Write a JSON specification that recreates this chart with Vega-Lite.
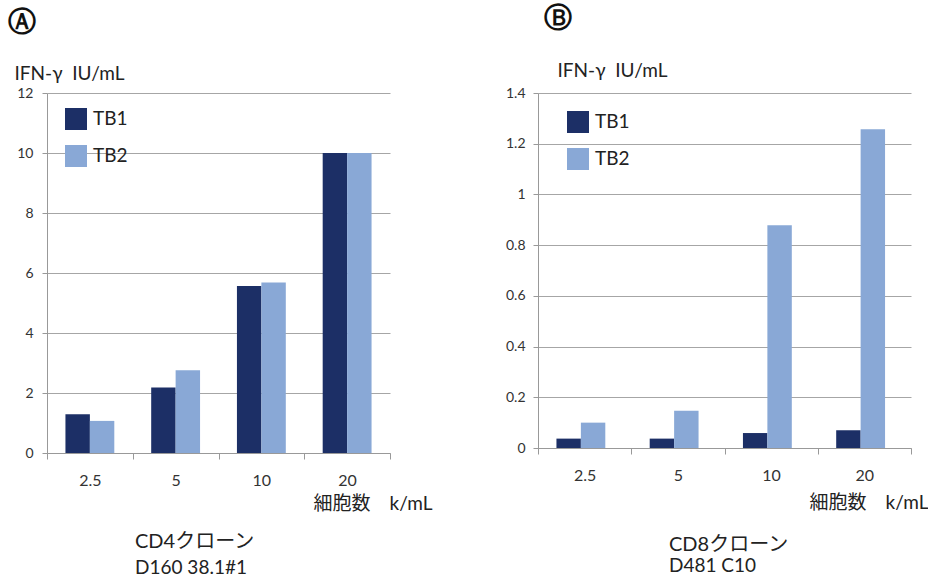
{
  "$schema": "https://vega.github.io/schema/vega-lite/v6.json",
  "padding": {"left": 8, "top": 5, "right": 0, "bottom": 0},
  "background": "white",
  "config": {
    "font": "Lato, Noto Sans CJK JP, sans-serif",
    "view": {"stroke": null},
    "axis": {"labelColor": "#333333", "titleColor": "#222222", "titleFontWeight": "normal", "domainColor": "#999999", "tickColor": "#999999", "gridColor": "#a6a6a6"},
    "title": {"color": "#222222", "fontWeight": "normal"}
  },
  "datasets": {
    "a": [
      {"cells": "2.5", "series": "TB1", "ifn": 1.29},
      {"cells": "2.5", "series": "TB2", "ifn": 1.07},
      {"cells": "5", "series": "TB1", "ifn": 2.18},
      {"cells": "5", "series": "TB2", "ifn": 2.76},
      {"cells": "10", "series": "TB1", "ifn": 5.57},
      {"cells": "10", "series": "TB2", "ifn": 5.68},
      {"cells": "20", "series": "TB1", "ifn": 10},
      {"cells": "20", "series": "TB2", "ifn": 10}
    ],
    "b": [
      {"cells": "2.5", "series": "TB1", "ifn": 0.037},
      {"cells": "2.5", "series": "TB2", "ifn": 0.1},
      {"cells": "5", "series": "TB1", "ifn": 0.037},
      {"cells": "5", "series": "TB2", "ifn": 0.147},
      {"cells": "10", "series": "TB1", "ifn": 0.059},
      {"cells": "10", "series": "TB2", "ifn": 0.878},
      {"cells": "20", "series": "TB1", "ifn": 0.07},
      {"cells": "20", "series": "TB2", "ifn": 1.257}
    ]
  },
  "spacing": 73,
  "resolve": {"scale": {"y": "independent"}, "legend": {"color": "independent"}},
  "hconcat": [
    {
      "title": {"text": "Ⓐ", "anchor": "start", "fontSize": 28, "fontWeight": "bold", "font": "DejaVu Sans", "color": "#111111", "offset": 27, "dx": -6},
      "vconcat": [
        {
          "width": 343,
          "height": 360,
          "data": {"name": "a"},
          "title": {"text": "CD4クローン", "subtitle": "D160 38.1#1", "orient": "bottom", "anchor": "start", "frame": "group", "dx": 88, "fontSize": 20, "subtitleFontSize": 19, "subtitleColor": "#222222", "subtitlePadding": 7, "offset": 19},
          "mark": {"type": "bar"},
          "encoding": {
            "x": {"field": "cells", "type": "nominal", "sort": ["2.5", "5", "10", "20"],
                  "scale": {"paddingInner": 0, "paddingOuter": 0},
                  "axis": {"title": "細胞数　k/mL", "labelAngle": 0, "labelFontSize": 16, "labelPadding": 13, "tickBand": "extent", "tickSize": 6, "titleFontSize": 19, "titleAlign": "right", "titleBaseline": "middle", "titleX": 385, "titleY": 50}},
            "xOffset": {"field": "series", "type": "nominal", "scale": {"paddingInner": 0, "paddingOuter": 0.755}},
            "y": {"field": "ifn", "type": "quantitative",
                  "scale": {"domain": [0, 12], "nice": false},
                  "axis": {"title": "IFN-γ\u00a0\u00a0IU/mL", "values": [0, 2, 4, 6, 8, 10, 12], "labelFontSize": 14, "labelPadding": 9, "tickSize": 5, "titleAngle": 0, "titleAlign": "left", "titleBaseline": "bottom", "titleX": -33, "titleY": -10, "titleFontSize": 19}},
            "color": {"field": "series", "type": "nominal",
                      "scale": {"domain": ["TB1", "TB2"], "range": ["#1c2f66", "#89a8d6"]},
                      "legend": {"title": null, "orient": "none", "legendX": 18, "legendY": 15, "symbolType": "square", "symbolSize": 484, "symbolStrokeWidth": 0, "labelFontSize": 19, "labelColor": "#222222", "labelOffset": 6, "rowPadding": 15, "padding": 0}}
          }
        }
      ]
    },
    {
      "title": {"text": "Ⓑ", "anchor": "start", "fontSize": 28, "fontWeight": "bold", "font": "DejaVu Sans", "color": "#111111", "offset": 28, "dx": 39},
      "vconcat": [
        {
          "width": 373,
          "height": 355,
          "data": {"name": "b"},
          "title": {"text": "CD8クローン", "subtitle": "D481 C10", "orient": "bottom", "anchor": "start", "frame": "group", "dx": 131, "fontSize": 20, "subtitleFontSize": 19, "subtitleColor": "#222222", "subtitlePadding": 2, "offset": 23},
          "mark": {"type": "bar"},
          "encoding": {
            "x": {"field": "cells", "type": "nominal", "sort": ["2.5", "5", "10", "20"],
                  "scale": {"paddingInner": 0, "paddingOuter": 0},
                  "axis": {"title": "細胞数　k/mL", "labelAngle": 0, "labelFontSize": 16, "labelPadding": 13, "tickBand": "extent", "tickSize": 6, "titleFontSize": 19, "titleAlign": "right", "titleBaseline": "middle", "titleX": 390, "titleY": 54}},
            "xOffset": {"field": "series", "type": "nominal", "scale": {"paddingInner": 0, "paddingOuter": 0.76}},
            "y": {"field": "ifn", "type": "quantitative",
                  "scale": {"domain": [0, 1.4], "nice": false},
                  "axis": {"title": "IFN-γ\u00a0\u00a0IU/mL", "format": "~g", "values": [0, 0.2, 0.4, 0.6, 0.8, 1, 1.2, 1.4], "labelFontSize": 14, "labelPadding": 8, "tickSize": 5, "titleAngle": 0, "titleAlign": "left", "titleBaseline": "bottom", "titleX": 19, "titleY": -13, "titleFontSize": 19}},
            "color": {"field": "series", "type": "nominal",
                      "scale": {"domain": ["TB1", "TB2"], "range": ["#1c2f66", "#89a8d6"]},
                      "legend": {"title": null, "orient": "none", "legendX": 29, "legendY": 18, "symbolType": "square", "symbolSize": 484, "symbolStrokeWidth": 0, "labelFontSize": 19, "labelColor": "#222222", "labelOffset": 6, "rowPadding": 15, "padding": 0}}
          }
        }
      ]
    }
  ]
}
